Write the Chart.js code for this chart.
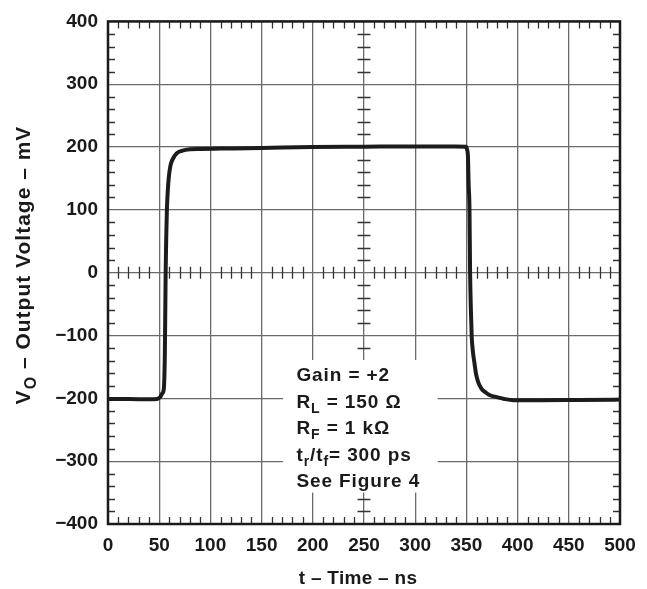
<!DOCTYPE html>
<html>
<head>
<meta charset="utf-8">
<style>
  html, body { margin: 0; padding: 0; background: #fff; }
  #wrap { width: 647px; height: 589px; }
</style>
<script src="https://cdn.jsdelivr.net/npm/chart.js@4.4.1/dist/chart.umd.min.js"></script>
</head>
<body>
<div id="wrap"><canvas id="pulse-chart" width="647" height="589"></canvas></div>
<script>
// Output pulse (time in ns, output in mV)
const timeNs = [0, 20, 40, 48, 51, 53, 54.5, 55.5, 56, 56.3, 56.8, 57.5, 58.3, 59.2, 60.8, 63, 67, 72, 80, 90,
  110, 150, 200, 250, 300, 340, 349.5, 350.5, 351.5, 352.2, 353, 353.6, 354.4, 355.2, 356.3, 357.8, 359.5,
  361.7, 364.5, 368.2, 373, 379.7, 387, 396, 422, 460, 500];
const outputMv = [-201, -201, -201.5, -201, -198, -192, -185, -130, -50, 0, 50, 100, 128, 149, 169, 180, 190,
  194, 196.5, 197, 197.5, 198.5, 200, 200.5, 201, 201, 200.5, 197, 185, 140, 102, 2, -60, -102, -125, -143,
  -162, -175, -184, -190, -195, -198, -201, -203, -203, -202.5, -202];

// Axis ticks
const xTicks = [0, 50, 100, 150, 200, 250, 300, 350, 400, 450, 500];
const yTicks = [-400, -300, -200, -100, 0, 100, 200, 300, 400];

// Text blocks: each run is [text, isSubscript]
const xTitle = [['t – Time – ns', false]];
const yTitle = [['V', false], ['O', true], [' – Output Voltage – mV', false]];
const noteLines = [
  [['Gain = +2', false]],
  [['R', false], ['L', true], [' = 150 Ω', false]],
  [['R', false], ['F', true], [' = 1 kΩ', false]],
  [['t', false], ['r', true], ['/t', false], ['f', true], ['= 300 ps', false]],
  [['See Figure 4', false]],
];

const FONT = "'Liberation Sans', Arial, Helvetica, sans-serif";
const INK = '#1a1a1a';
const GRID = '#6a6a6a';

const minusLabel = v => (v < 0 ? '\u2212' + Math.abs(v) : String(v));

// Draws a row of text runs with subscripts, baseline at y
const drawRuns = (ctx, runs, x, y, size, align, spacing) => {
  const subSize = Math.round(size * 0.74);
  ctx.save();
  ctx.letterSpacing = spacing + 'px';
  let total = 0;
  runs.forEach(([t, sub]) => {
    ctx.font = `bold ${sub ? subSize : size}px ${FONT}`;
    total += ctx.measureText(t).width;
  });
  let cx = align === 'center' ? x - total / 2 : x;
  runs.forEach(([t, sub]) => {
    ctx.font = `bold ${sub ? subSize : size}px ${FONT}`;
    ctx.fillText(t, cx, sub ? y + Math.round(size * 0.28) : y);
    cx += ctx.measureText(t).width;
  });
  ctx.restore();
};

const decorPlugin = {
  id: 'decor',
  beforeDatasetsDraw(chart) {
    const ctx = chart.ctx;
    const { left, right, top, bottom } = chart.chartArea;
    const xs = chart.scales.x;
    const ys = chart.scales.y;
    const x0 = xs.getPixelForValue(250);
    const y0 = ys.getPixelForValue(0);

    ctx.save();
    ctx.strokeStyle = '#333';
    ctx.lineWidth = 1.3;
    ctx.beginPath();
    // minor ticks every 10 ns on the frame and on the 0 mV line
    for (let t = xs.min; t <= xs.max; t += 10) {
      if (t % 50 === 0) continue;
      const px = Math.round(xs.getPixelForValue(t)) + 0.5;
      ctx.moveTo(px, bottom); ctx.lineTo(px, bottom - 7);
      ctx.moveTo(px, top); ctx.lineTo(px, top + 7);
      ctx.moveTo(px, y0 - 6); ctx.lineTo(px, y0 + 6);
    }
    // minor ticks every 20 mV on the frame and on the 250 ns line
    for (let v = ys.min; v <= ys.max; v += 20) {
      if (v % 100 === 0) continue;
      const py = Math.round(ys.getPixelForValue(v)) + 0.5;
      ctx.moveTo(left, py); ctx.lineTo(left + 7, py);
      ctx.moveTo(right, py); ctx.lineTo(right - 7, py);
      ctx.moveTo(x0 - 6.5, py); ctx.lineTo(x0 + 6.5, py);
    }
    ctx.stroke();

    // frame
    ctx.strokeStyle = INK;
    ctx.lineWidth = 2.5;
    ctx.strokeRect(left, top, right - left, bottom - top);
    ctx.restore();
  },
  afterDatasetsDraw(chart) {
    const ctx = chart.ctx;
    const { left, right, top, bottom } = chart.chartArea;
    const xs = chart.scales.x;
    const ys = chart.scales.y;

    ctx.save();
    // white box behind the conditions text
    const bx = xs.getPixelForValue(171);
    const by = ys.getPixelForValue(-139);
    ctx.fillStyle = '#fff';
    ctx.fillRect(bx, by, xs.getPixelForValue(322) - bx, ys.getPixelForValue(-350) - by);

    ctx.fillStyle = INK;
    ctx.textAlign = 'left';
    ctx.textBaseline = 'alphabetic';
    const tx = xs.getPixelForValue(184);
    let ty = ys.getPixelForValue(-173);
    noteLines.forEach(line => {
      drawRuns(ctx, line, tx, ty, 19, 'left', 0.9);
      ty += 26.5;
    });

    // axis titles
    drawRuns(ctx, xTitle, (left + right) / 2 - 6, 584, 19, 'center', 0.3);
    ctx.translate(22, 265);
    ctx.rotate(-Math.PI / 2);
    drawRuns(ctx, yTitle, 0, 7.5, 21, 'center', 1);
    ctx.restore();
  }
};

const ctx = document.getElementById('pulse-chart').getContext('2d');

new Chart(ctx, {
  type: 'line',
  data: {
    datasets: [{
      data: timeNs.map((t, i) => ({ x: t, y: outputMv[i] })),
      borderColor: '#1c1c1c',
      borderWidth: 4,
      pointRadius: 0,
      cubicInterpolationMode: 'monotone',
      borderJoinStyle: 'round',
      borderCapStyle: 'round',
      fill: false,
    }]
  },
  options: {
    responsive: false,
    animation: false,
    devicePixelRatio: 1,
    layout: { padding: { top: 13, right: 27, left: 0, bottom: 0 } },
    plugins: {
      legend: { display: false },
      tooltip: { enabled: false },
    },
    scales: {
      x: {
        type: 'linear',
        min: xTicks[0],
        max: xTicks[xTicks.length - 1],
        afterBuildTicks: scale => { scale.ticks = xTicks.map(v => ({ value: v })); },
        afterFit: scale => { scale.height = 65; },
        ticks: {
          autoSkip: false,
          maxRotation: 0,
          padding: 10,
          color: INK,
          font: { family: FONT, size: 19, weight: 'bold' },
          callback: v => minusLabel(v),
        },
        grid: { color: GRID, lineWidth: 1.3, drawTicks: false },
        border: { display: false },
      },
      y: {
        min: yTicks[0],
        max: yTicks[yTicks.length - 1],
        afterBuildTicks: scale => { scale.ticks = yTicks.map(v => ({ value: v })); },
        afterFit: scale => { scale.width = 108; },
        ticks: {
          autoSkip: false,
          padding: 10,
          color: INK,
          font: { family: FONT, size: 19, weight: 'bold' },
          callback: v => minusLabel(v),
        },
        grid: { color: GRID, lineWidth: 1.3, drawTicks: false },
        border: { display: false },
      }
    }
  },
  plugins: [decorPlugin]
});
</script>
</body>
</html>
